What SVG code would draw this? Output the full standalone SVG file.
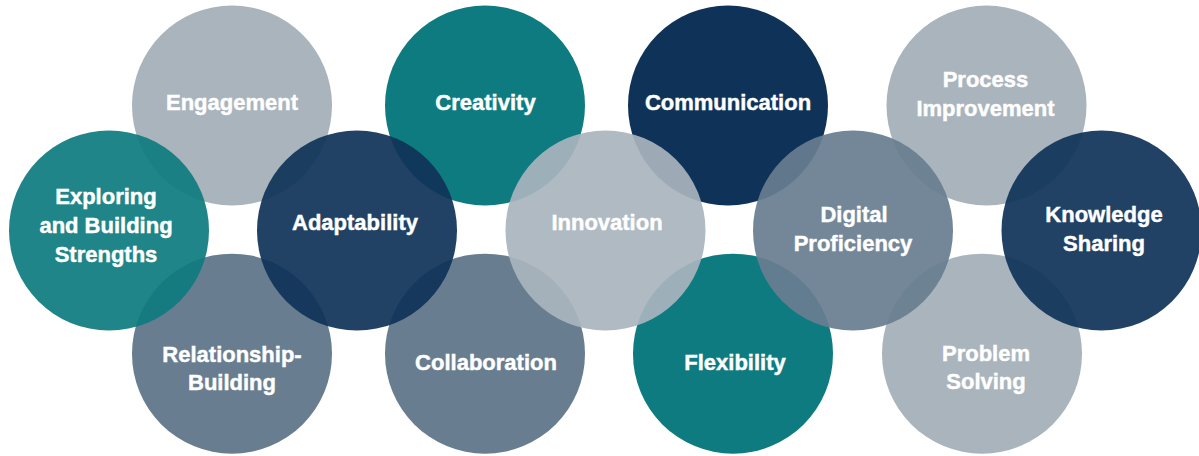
<svg xmlns="http://www.w3.org/2000/svg" width="1199" height="456" viewBox="0 0 1199 456">
<style>
.gray{fill:#a9b4bd}
.teal{fill:#0e7b80}
.navy{fill:#0f3358}
.slate{fill:#687d90}
.mid{fill-opacity:0.925}
text{font-family:"Liberation Sans",Arial,sans-serif;font-weight:bold;font-size:22px;fill:#ffffff;stroke:#ffffff;stroke-width:0.45;text-anchor:middle}
</style>
<rect width="1199" height="456" fill="#ffffff"/>
<g id="engagement"><circle class="gray" cx="232" cy="105.5" r="100"/><text x="232" y="110">Engagement</text></g>
<g id="creativity"><circle class="teal" cx="485" cy="105.5" r="100"/><text x="485.5" y="110">Creativity</text></g>
<g id="communication"><circle class="navy" cx="728" cy="105.5" r="100"/><text x="728" y="110">Communication</text></g>
<g id="process-improvement"><circle class="gray" cx="986.5" cy="105.5" r="100"/><text x="985.5" y="87">Process</text><text x="985.5" y="116">Improvement</text></g>
<g id="relationship-building"><circle class="slate" cx="232" cy="353.7" r="100"/><text x="232" y="362">Relationship-</text><text x="232" y="390">Building</text></g>
<g id="collaboration"><circle class="slate" cx="485" cy="353.7" r="100"/><text x="486" y="370">Collaboration</text></g>
<g id="flexibility"><circle class="teal" cx="733" cy="353.7" r="100"/><text x="735" y="370">Flexibility</text></g>
<g id="problem-solving"><circle class="gray" cx="982" cy="353.7" r="100"/><text x="986" y="361">Problem</text><text x="986" y="389">Solving</text></g>
<g id="exploring"><circle class="teal mid" cx="109" cy="230.5" r="100"/><text x="106" y="204">Exploring</text><text x="106" y="233">and Building</text><text x="106" y="262">Strengths</text></g>
<g id="adaptability"><circle class="navy mid" cx="357" cy="230.5" r="100"/><text x="355" y="230">Adaptability</text></g>
<g id="innovation"><circle class="gray mid" cx="605.5" cy="230.5" r="100"/><text x="607" y="230">Innovation</text></g>
<g id="digital-proficiency"><circle class="slate mid" cx="853" cy="230.5" r="100"/><text x="854" y="222">Digital</text><text x="853" y="251">Proficiency</text></g>
<g id="knowledge-sharing"><circle class="navy mid" cx="1101.5" cy="230.5" r="100"/><text x="1104" y="222">Knowledge</text><text x="1104" y="251">Sharing</text></g>
<g id="connectors"></g>
</svg>
